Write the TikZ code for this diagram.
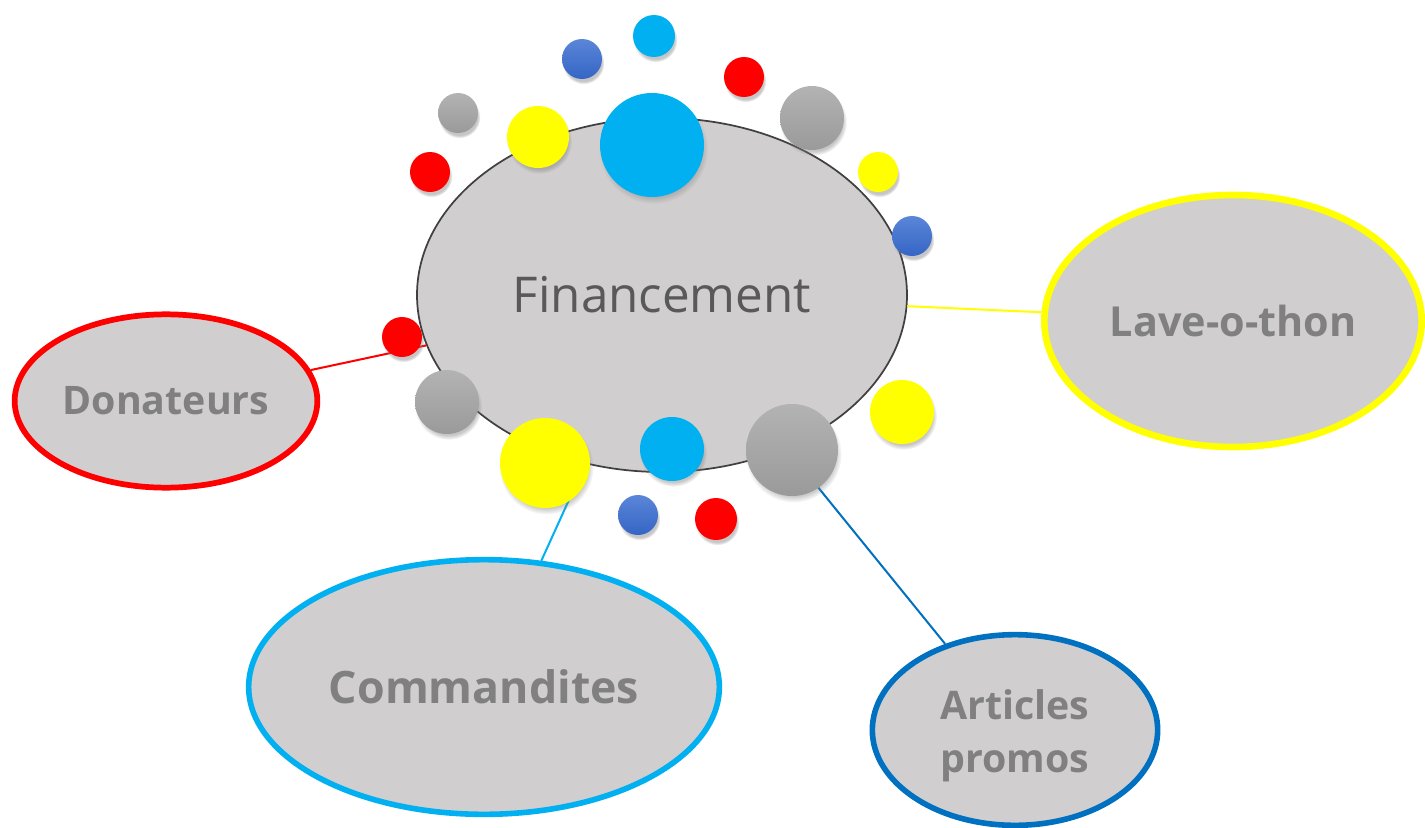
\documentclass[tikz,border=0pt]{standalone}
\usepackage{fontspec}
\setmainfont{Open Sans}
\usetikzlibrary{shapes.geometric,shadows}
\definecolor{ellfill}{HTML}{D0CECF}
\definecolor{labgray}{HTML}{808080}
\definecolor{maintext}{HTML}{595959}
\definecolor{mainline}{HTML}{404040}
\definecolor{dred}{HTML}{FF0000}
\definecolor{dyellow}{HTML}{FFFF00}
\definecolor{dcyan}{HTML}{00B0F0}
\definecolor{dblue}{HTML}{0070C0}
\definecolor{bluetop}{HTML}{5A86D8}
\definecolor{bluebot}{HTML}{3565C5}
\definecolor{graytop}{HTML}{B3B3B3}
\definecolor{graybot}{HTML}{9A9A9A}
\begin{document}
\begin{tikzpicture}[x=0.75pt,y=-0.75pt,
  bub/.style={ellipse, draw, fill=ellfill, inner sep=0pt, text=labgray, align=center,
    font=\bfseries\fontsize{29.5}{40}\selectfont},
  lab/.style={inner sep=0pt, text=labgray, align=center, font=\bfseries\fontsize{29.5}{40}\selectfont},
  dot/.style={circle, inner sep=0pt, draw=none, minimum size=#1*1.5pt,
    circular drop shadow={shadow xshift=1pt, shadow yshift=-3pt, shadow scale=1.05, opacity=0.45}},
  rdot/.style={dot=#1, fill=dred},
  ydot/.style={dot=#1, fill=dyellow},
  cdot/.style={dot=#1, fill=dcyan},
  bdot/.style={dot=#1, top color=bluetop, bottom color=bluebot},
  gdot/.style={dot=#1, top color=graytop, bottom color=graybot},
  link/.style={line width=1.5pt}
]
\useasboundingbox (0,0) rectangle (1425,828);

% main ellipse
\node[ellipse, draw=mainline, line width=1.3pt, fill=ellfill, minimum width=367.5pt, minimum height=265.5pt,
  inner sep=0pt, text=maintext, font=\fontsize{37}{40}\selectfont] (fin) at (662,295) {Financement};

% satellites
\node[bub, draw=dred, line width=4.3pt, minimum width=227pt, minimum height=130pt] (don) at (166,401) {Donateurs};
\node[bub, draw=dyellow, line width=5pt, minimum width=283pt, minimum height=189pt,
  font=\bfseries\fontsize{31}{40}\selectfont] (lave) at (1233,321) {Lave-o-thon};
\node[bub, draw=dcyan, line width=4.2pt, minimum width=353pt, minimum height=191pt,
  font=\bfseries\fontsize{33.5}{40}\selectfont] (com) at (484,687) {Commandites};
\node[bub, draw=dblue, line width=4.2pt, minimum width=214pt, minimum height=143pt] (art) at (1015,730) {};
\node[lab] (artlab) at (1015,736) {Articles\\promos};

% connectors
\draw[link, dred] (don) -- (fin);
\draw[link, dyellow] (lave) -- (fin);
\draw[link, dcyan] (com) -- (fin);
\draw[link, dblue] (art) -- (fin);

% dots
\node[cdot=21] (c1) at (654,36) {};
\node[bdot=20] (c2) at (582,59) {};
\node[rdot=20] (c3) at (744,77) {};
\node[gdot=20] (c4) at (458,113) {};
\node[ydot=31] (c5) at (538,137) {};
\node[cdot=52] (c6) at (652,145) {};
\node[gdot=32] (c7) at (812,118) {};
\node[rdot=20] (c8) at (430,172) {};
\node[ydot=20] (c9) at (878,172) {};
\node[bdot=20] (c10) at (912,236) {};
\node[rdot=20] (c11) at (402,337) {};
\node[gdot=32] (c12) at (447,402) {};
\node[ydot=45] (c13) at (545,463) {};
\node[cdot=32] (c14) at (672,449) {};
\node[gdot=46] (c15) at (792,450) {};
\node[ydot=32] (c16) at (902,412) {};
\node[bdot=20] (c17) at (638,515) {};
\node[rdot=21] (c18) at (716,519) {};
\end{tikzpicture}
\end{document}
